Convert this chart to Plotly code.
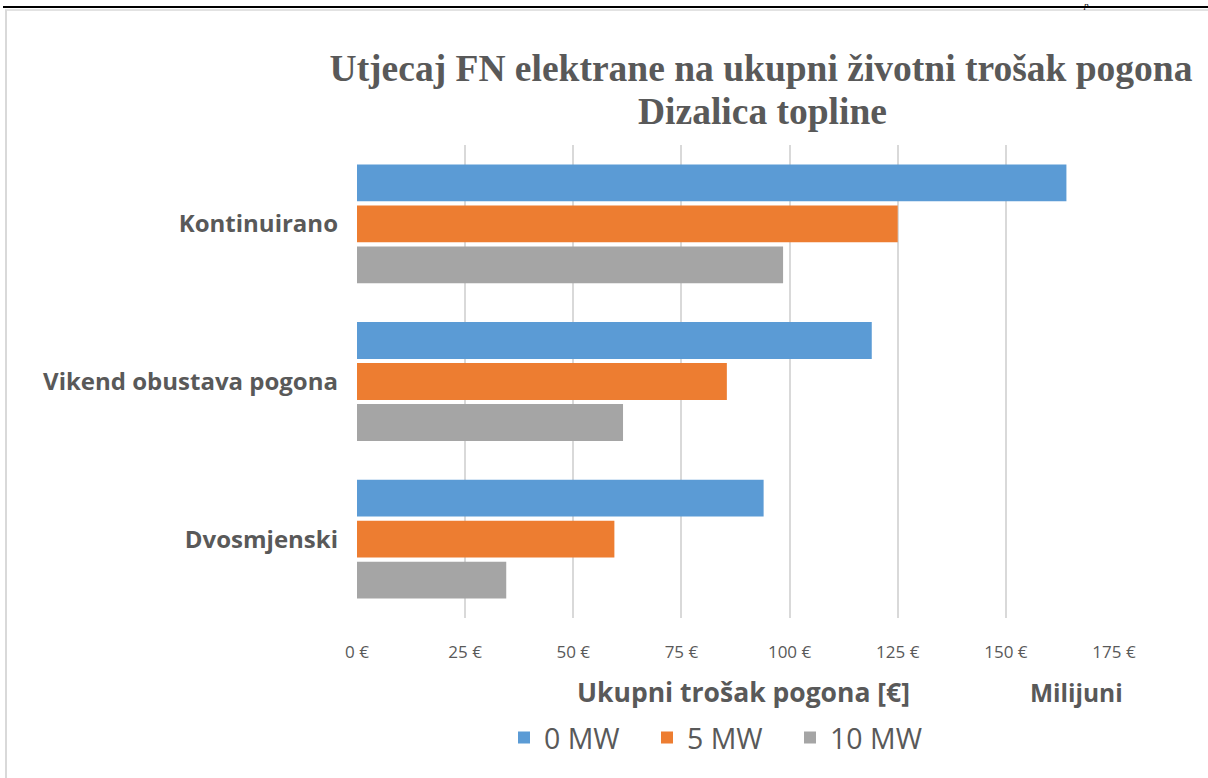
import plotly.graph_objects as go

# ---- data (values in millions of €) ----
categories = ["Kontinuirano", "Vikend obustava pogona", "Dvosmjenski"]
series_names = ["0 MW", "5 MW", "10 MW"]
mw0 = [164.0, 119.0, 94.0]
mw5 = [125.0, 85.5, 59.5]
mw10 = [98.5, 61.5, 34.5]
tick_vals = [0, 25, 50, 75, 100, 125, 150, 175]
tick_text = ["0 €", "25 €", "50 €", "75 €", "100 €", "125 €", "150 €", "175 €"]
title_line1 = "Utjecaj FN elektrane na ukupni životni trošak pogona"
title_line2 = "Dizalica topline"

colors = ["#5B9BD5", "#ED7D31", "#A5A5A5"]
TXT = "#595959"

W, H = 1208, 778
L, R, T, B = 357, 1114, 145, 618  # plot area in pixels


def px2x(px):
    return (px - L) / (R - L)


def py2y(py):
    return (B - py) / (B - T)


fig = go.Figure()
for name, vals, col in zip(series_names, [mw0, mw5, mw10], colors):
    fig.add_trace(go.Bar(
        y=categories, x=vals, name=name, orientation="h",
        marker=dict(color=col, line=dict(width=0)),
    ))

fig.update_layout(
    width=W, height=H,
    margin=dict(l=L, r=W - R, t=T, b=H - B, pad=0),
    paper_bgcolor="white", plot_bgcolor="white",
    barmode="group", bargap=0.22, bargroupgap=0.1,
    font=dict(family="Open Sans", color=TXT),
    title=dict(
        text=title_line1,
        font=dict(family="Liberation Serif", size=37.5, color=TXT, weight="bold"),
        x=761 / W, xanchor="center", xref="container",
        y=1 - 68 / H, yanchor="middle", yref="container",
    ),
    xaxis=dict(
        range=[0, 175], tickvals=tick_vals, ticktext=tick_text,
        showgrid=True, gridcolor="#D9D9D9", gridwidth=1.5,
        zeroline=False, showline=False, ticks="",
        ticklabelstandoff=22,
        tickfont=dict(family="Open Sans", size=17, color=TXT),
    ),
    yaxis=dict(
        autorange="reversed", showgrid=False, zeroline=False, showline=False,
        ticks="", ticklabelstandoff=18,
        tickfont=dict(family="Open Sans", size=24, color=TXT, weight="bold"),
    ),
    legend=dict(
        orientation="h", x=px2x(504), xanchor="left",
        y=py2y(738), yanchor="middle",
        font=dict(family="Open Sans", size=28.5, color=TXT),
        traceorder="normal", itemwidth=30, entrywidth=98,
    ),
)

fig.add_annotation(
    text="<b>" + title_line2 + "</b>", xref="paper", yref="paper",
    x=px2x(762), y=py2y(111), xanchor="center", yanchor="middle",
    showarrow=False, font=dict(family="Liberation Serif", size=37.5, color=TXT),
)
fig.add_annotation(
    text="<b>Ukupni trošak pogona [€]</b>", xref="paper", yref="paper",
    x=px2x(743), y=py2y(692), xanchor="center", yanchor="middle",
    showarrow=False, font=dict(family="Open Sans", size=26.5, color=TXT),
)
fig.add_annotation(
    text="<b>Milijuni</b>", xref="paper", yref="paper",
    x=px2x(1076), y=py2y(692), xanchor="center", yanchor="middle",
    showarrow=False, font=dict(family="Open Sans", size=24.5, color=TXT),
)
fig.add_annotation(
    text="<i>p</i>", xref="paper", yref="paper",
    x=px2x(1086), y=py2y(5), xanchor="center", yanchor="middle",
    showarrow=False, font=dict(family="Liberation Serif", size=9, color="#000000"),
)

# page / chart-area borders
fig.add_shape(type="line", xref="paper", yref="paper",
              x0=px2x(3), x1=px2x(1210), y0=py2y(7), y1=py2y(7),
              line=dict(color="#000000", width=2))
fig.add_shape(type="line", xref="paper", yref="paper",
              x0=px2x(5), x1=px2x(1210), y0=py2y(10), y1=py2y(10),
              line=dict(color="#D9D9D9", width=1.5))
fig.add_shape(type="line", xref="paper", yref="paper",
              x0=px2x(6), x1=px2x(6), y0=py2y(10), y1=py2y(780),
              line=dict(color="#D9D9D9", width=2))

fig.write_html(
    "out.html",
    config={"displayModeBar": False},
    post_script="document.body.style.margin='0';document.body.style.overflow='hidden';",
)
